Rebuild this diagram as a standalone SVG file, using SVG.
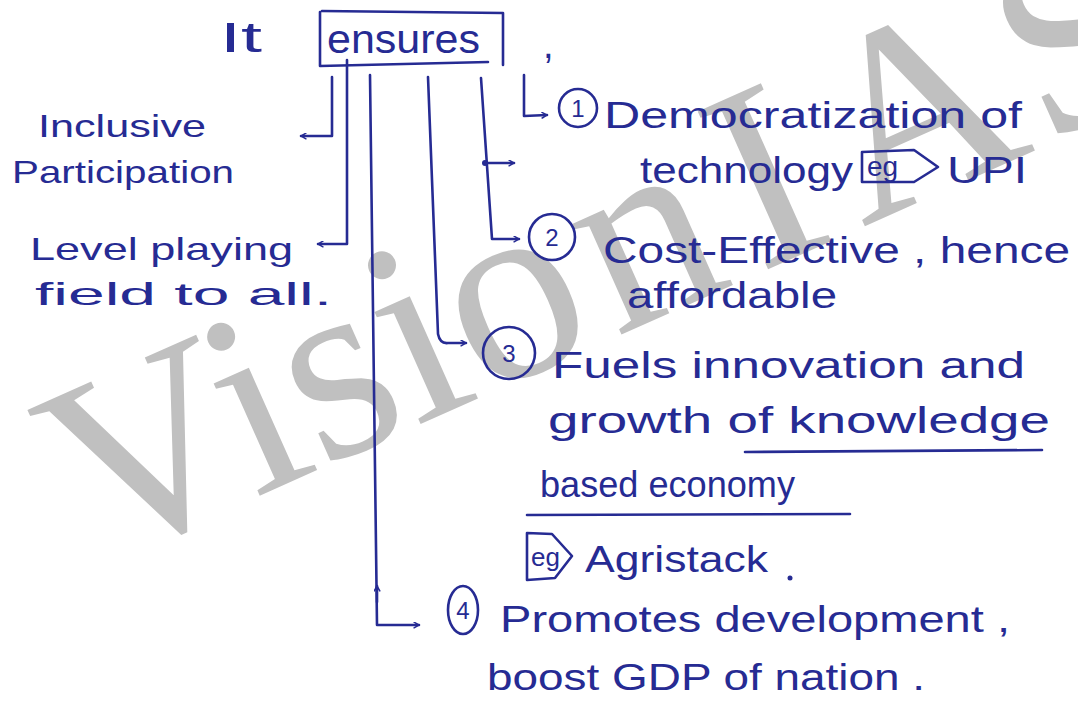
<svg xmlns="http://www.w3.org/2000/svg" width="1078" height="717" viewBox="0 0 1078 717">
<style>
.ink{fill:#262b93;font-family:"Liberation Sans","DejaVu Sans",sans-serif;}
.t40{font-size:37px;}
.t32{font-size:32px;}
.num{font-size:24px;text-anchor:middle;}
.ln{fill:none;stroke:#262b93;stroke-width:2.6;stroke-linecap:round;stroke-linejoin:round;}
.wm{fill:#c0c0c0;font-family:"Liberation Serif","DejaVu Serif",serif;font-size:264px;}
</style>
<defs>
<marker id="ah" viewBox="0 0 10 10" refX="9" refY="5" markerWidth="7" markerHeight="7" orient="auto" markerUnits="userSpaceOnUse">
<path d="M2,1 L9,5 L2,9" fill="none" stroke="#262b93" stroke-width="2.2" stroke-linecap="round"/>
</marker>
</defs>
<rect width="1078" height="717" fill="#ffffff"/>
<text class="wm" transform="translate(95,569) rotate(-24)">Visio<tspan dx="14">n</tspan><tspan dx="25">I</tspan><tspan dx="25">A</tspan><tspan dx="8">S</tspan></text>

<g id="root">
<text class="ink" x="220" y="52" font-size="42" textLength="42" lengthAdjust="spacingAndGlyphs">It</text>
<path class="ln" d="M322,11 L503,13 L503,65 M320,12 L320,66 L488,62"/>
<text class="ink" x="327" y="53" font-size="40" textLength="153" lengthAdjust="spacingAndGlyphs">ensures</text>
<text class="ink" x="543" y="58" font-size="38">,</text>
</g>

<g id="connectors">
<path class="ln" d="M332,77 L332,136 L301,136" marker-end="url(#ah)"/>
<path class="ln" d="M347,60 L347,244 L318,244" marker-end="url(#ah)"/>
<path class="ln" d="M370,75 L377,625 L419,625" marker-end="url(#ah)"/>
<path class="ln" d="M377,602 L377,586" marker-end="url(#ah)"/>
<path class="ln" d="M428,77 L438,334 Q440,344 448,343 L466,343" marker-end="url(#ah)"/>
<path class="ln" d="M481,78 L492,239 L519,239" marker-end="url(#ah)"/>
<path class="ln" d="M485,163 L514,163" marker-end="url(#ah)"/>
<circle cx="485" cy="163" r="3" fill="#262b93"/>
<path class="ln" d="M524,75 L524,116 L547,115" marker-end="url(#ah)"/>
</g>

<g id="inclusive">
<text class="ink t32" x="38" y="137" textLength="168" lengthAdjust="spacingAndGlyphs">Inclusive</text>
<text class="ink t32" x="12" y="183" textLength="222" lengthAdjust="spacingAndGlyphs">Participation</text>
</g>

<g id="level">
<text class="ink t32" x="30" y="260" textLength="263" lengthAdjust="spacingAndGlyphs">Level playing</text>
<text class="ink t32" x="35" y="305" textLength="297" lengthAdjust="spacingAndGlyphs">field to all.</text>
</g>

<g id="point1">
<circle class="ln" cx="578" cy="108" r="19"/>
<text class="ink num" x="578" y="117">1</text>
<text class="ink t40" x="604" y="128" textLength="418" lengthAdjust="spacingAndGlyphs">Democratization of</text>
<text class="ink t40" x="640" y="183" textLength="213" lengthAdjust="spacingAndGlyphs">technology</text>
<path class="ln" d="M862,152 L862,182 L914,182 L938,167 L914,150 Z" stroke-width="2"/>
<text class="ink" x="867" y="176" font-size="28">eg</text>
<text class="ink t40" x="947" y="183" textLength="80" lengthAdjust="spacingAndGlyphs">UPI</text>
</g>

<g id="point2">
<circle class="ln" cx="552" cy="237" r="23"/>
<text class="ink num" x="552" y="246">2</text>
<text class="ink t40" x="603" y="263" textLength="467" lengthAdjust="spacingAndGlyphs">Cost-Effective , hence</text>
<text class="ink t40" x="627" y="308" textLength="210" lengthAdjust="spacingAndGlyphs">affordable</text>
</g>

<g id="point3">
<ellipse class="ln" cx="509" cy="353" rx="26" ry="26"/>
<text class="ink num" x="509" y="362">3</text>
<text class="ink t40" x="552" y="378" textLength="473" lengthAdjust="spacingAndGlyphs">Fuels innovation and</text>
<text class="ink t40" x="548" y="433" textLength="502" lengthAdjust="spacingAndGlyphs">growth of knowledge</text>
<path class="ln" d="M745,452 L1042,450"/>
<text class="ink t40" x="540" y="497" textLength="255" lengthAdjust="spacingAndGlyphs">based economy</text>
<path class="ln" d="M527,515 L850,514"/>
<path class="ln" d="M527,533 L527,580 L555,578 L572,556 L552,534 Z" stroke-width="2"/>
<text class="ink" x="531" y="566" font-size="26">eg</text>
<text class="ink t40" x="585" y="572" textLength="183" lengthAdjust="spacingAndGlyphs">Agristack</text>
<circle cx="790" cy="578" r="2.5" fill="#262b93"/>
</g>

<g id="point4">
<ellipse class="ln" cx="463" cy="610" rx="15" ry="24"/>
<text class="ink num" x="463" y="619">4</text>
<text class="ink t40" x="500" y="632" textLength="510" lengthAdjust="spacingAndGlyphs">Promotes development ,</text>
<text class="ink t40" x="487" y="690" textLength="438" lengthAdjust="spacingAndGlyphs">boost GDP of nation .</text>
</g>
</svg>
